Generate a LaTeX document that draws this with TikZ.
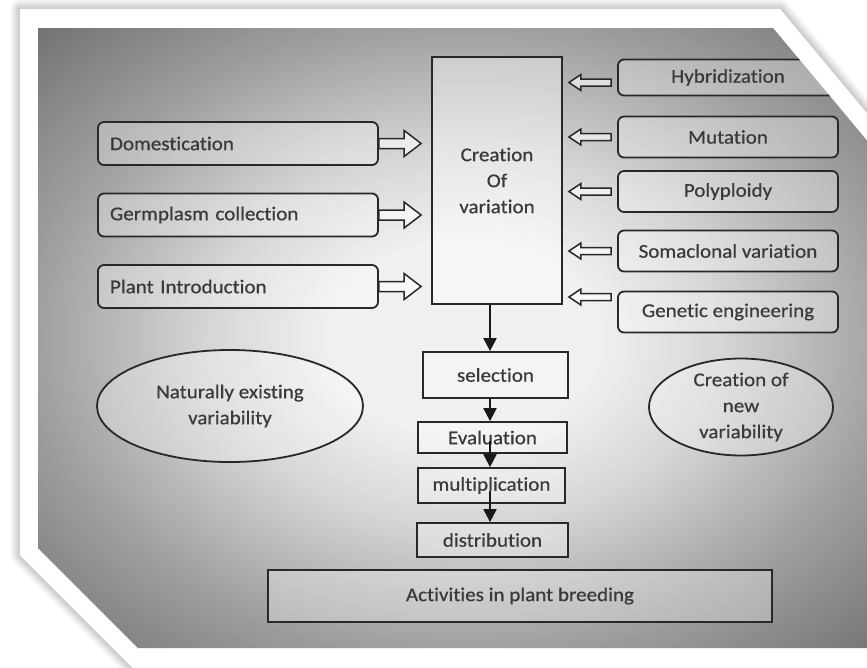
\documentclass[tikz,border=0pt]{standalone}
\usepackage{fontspec}
\setmainfont{Carlito}[FakeStretch=1.08,FakeBold=0.6,Ligatures=NoCommon]
\usetikzlibrary{arrows.meta,calc,shapes.geometric}
\definecolor{linec}{RGB}{40,40,40}
\definecolor{textc}{RGB}{58,58,58}
\definecolor{bgA}{RGB}{240,240,240}
\definecolor{bgB}{RGB}{214,214,214}
\definecolor{bgC}{RGB}{160,160,160}
\definecolor{bgD}{RGB}{112,112,112}
\pgfdeclareradialshading{bgshade}{\pgfpointorigin}{color(0bp)=(bgA); color(8bp)=(bgA); color(15bp)=(bgB); color(25bp)=(bgC); color(36bp)=(bgD); color(50bp)=(bgD)}
% hollow block arrow: tail, tip, shaft half, head half, head length
\newcommand{\fatarrow}[5]{%
  \draw[hollow] ($(#1)+(0,-#3)$) -- ($(#2)!#5pt!(#1)+(0,-#3)$) -- ($(#2)!#5pt!(#1)+(0,-#4)$) -- (#2)
    -- ($(#2)!#5pt!(#1)+(0,#4)$) -- ($(#2)!#5pt!(#1)+(0,#3)$) -- ($(#1)+(0,#3)$) -- cycle;}

\begin{document}
\begin{tikzpicture}[x=1pt,y=-1pt,font=\fontsize{19.5}{26}\selectfont,
  box/.style={draw=linec,line width=1.8pt,fill=white,fill opacity=.3,text opacity=1,text=textc,inner sep=0pt},
  leftbox/.style={box,rounded corners=6pt,minimum width=280pt,minimum height=43pt,text width=256pt,inner xsep=12pt,align=left},
  rightbox/.style={box,rounded corners=6pt,minimum width=220pt,minimum height=41pt,align=center},
  oval/.style={box,ellipse,align=center},
  hollow/.style={draw=linec,line width=1.5pt,fill=white,fill opacity=.6,line join=miter},
  down/.style={-{Triangle[length=13pt,width=13pt]},line width=2.2pt,draw=black!90}]
\useasboundingbox (0,0) rectangle (867,667);
% frame with soft shadow
\foreach \w in {18,13,9,5}
  \draw[black,opacity=.05,line width=\w pt,line join=round] (20,9) -- (780,9) -- (890,141) -- (890,690) -- (155,690) -- (20,555) -- cycle;
\fill[white] (20,9) -- (780,9) -- (890,141) -- (890,690) -- (155,690) -- (20,555) -- cycle;
\shade[shading=bgshade] (38,28) -- (773,28) -- (890,168) -- (890,648) -- (138,648) -- (38,548) -- cycle;
\begin{scope}
\clip (38,28) -- (773,28) -- (890,168) -- (890,648) -- (138,648) -- (38,548) -- cycle;
% central block
\node[box,minimum width=130pt,minimum height=247pt,align=center,fill opacity=.4] (cv) at (497,180.5) {Creation\\Of\\variation};
% existing variability
\node[leftbox] (dom) at (238,143.5) {Domestication};
\node[leftbox] (germ) at (238,215) {Germplasm collection};
\node[leftbox] (intro) at (238,286.5) {Plant Introduction};
% new variability
\node[rightbox,minimum height=36pt] (hyb) at (728,77.5) {Hybridization};
\node[rightbox] (mut) at (728,137) {Mutation};
\node[rightbox] (poly) at (728,191.5) {Polyploidy};
\node[rightbox] (soma) at (728,251) {Somaclonal variation};
\node[rightbox] (gen) at (728,312) {Genetic engineering};
% steps
\node[box,minimum width=145pt,minimum height=46pt] (sel) at (495.5,375) {selection};
\node[box,minimum width=149pt,minimum height=31pt] (eval) at (492.5,437.5) {Evaluation};
\node[box,minimum width=147pt,minimum height=35pt] (mult) at (491.5,485.5) {multiplication};
\node[box,minimum width=151pt,minimum height=34pt] (dist) at (492.5,540) {distribution};
\node[oval,minimum width=266pt,minimum height=112pt] (nat) at (230,406) {Naturally existing\\variability};
\node[oval,minimum width=184pt,minimum height=90pt] (new) at (741,407) {Creation of\\new\\variability};
\node[box,minimum width=504pt,minimum height=52pt] (act) at (520,596) {Activities in plant breeding};
% arrows
\foreach \n in {dom,germ,intro} {
  \coordinate (\n-tip) at ($(\n.east -| cv.west)+(-10,0)$);
  \fatarrow{\n.east}{\n-tip}{5}{13}{17}
}
\foreach \n/\dy in {hyb/5,mut/0,poly/0,soma/0,gen/-15} {
  \coordinate (\n-s) at ($(\n.west)+(-6,\dy)$);
  \coordinate (\n-tip) at ($(\n.west -| cv.east)+(6,\dy)$);
  \fatarrow{\n-s}{\n-tip}{3.5}{8}{12}
}
\coordinate (ax) at (490,0);
\draw[down] (cv.south -| ax) -- (sel.north -| ax);
\draw[down] (sel.south -| ax) -- (eval.north -| ax);
\draw[down] ($(eval.center -| ax)+(0,3)$) -- (mult.north -| ax);
\draw[down] ($(mult.center -| ax)+(0,5)$) -- (dist.north -| ax);
\end{scope}
\end{tikzpicture}
\end{document}
